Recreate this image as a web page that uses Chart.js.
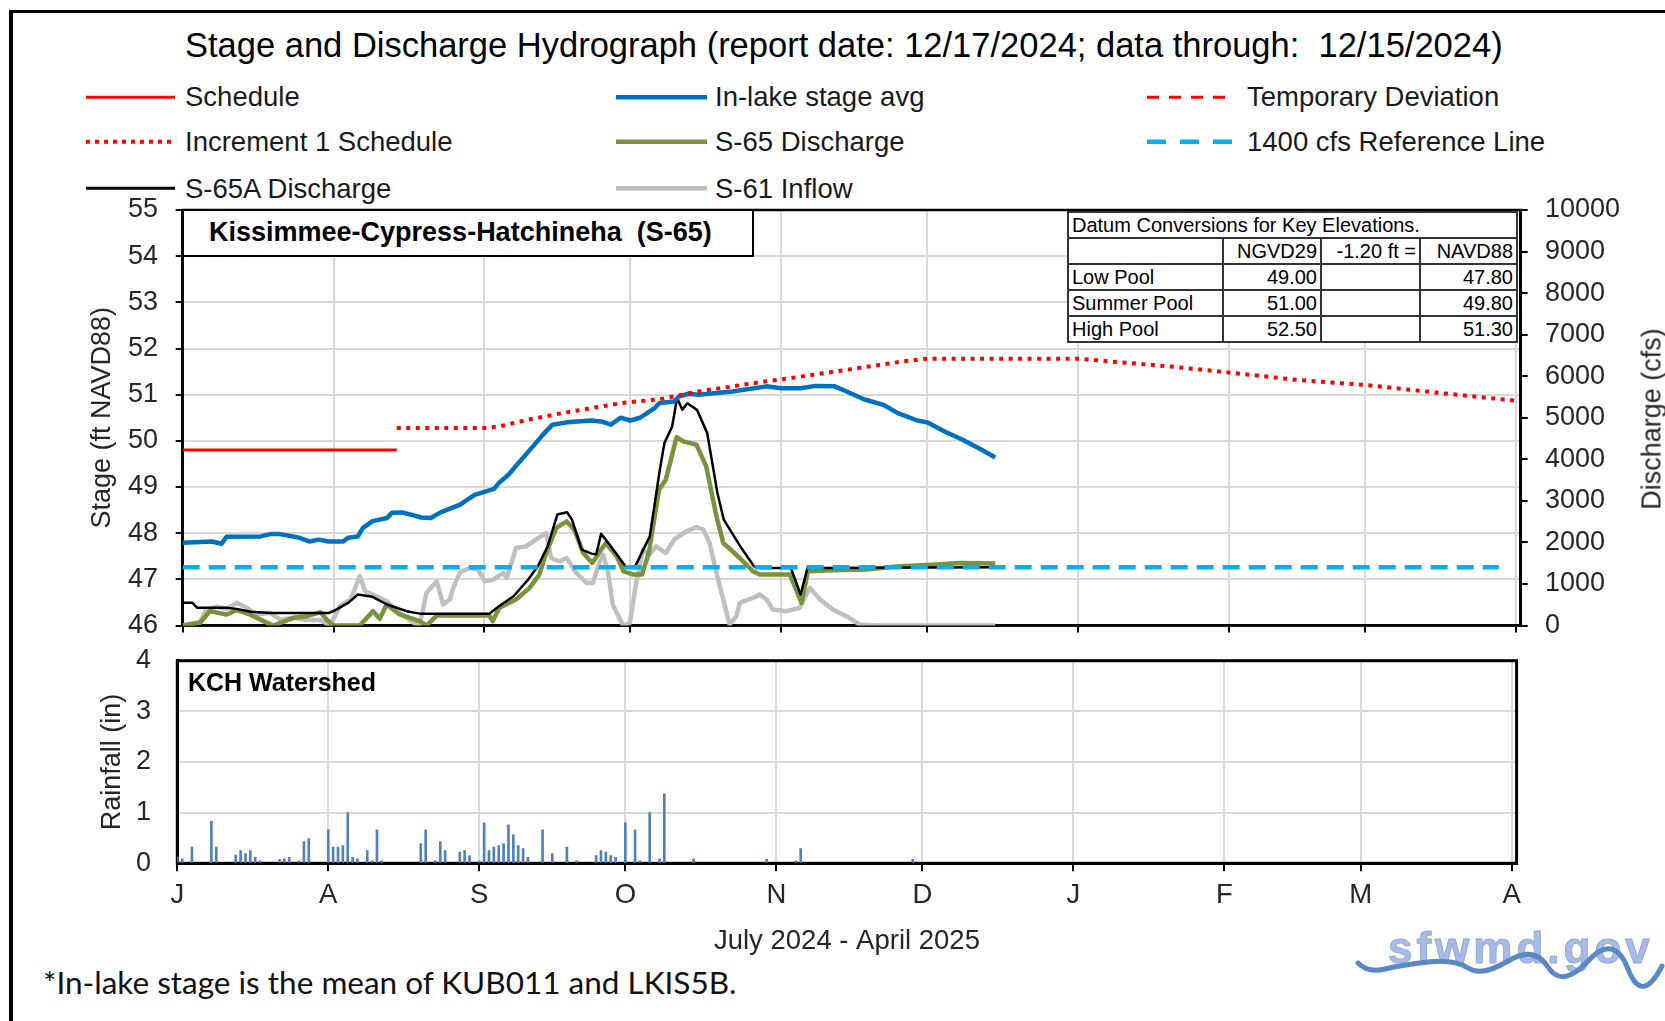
<!DOCTYPE html>
<html lang="en">
<head>
<meta charset="UTF-8">
<title>Stage and Discharge Hydrograph</title>
<script src="https://cdn.jsdelivr.net/npm/chart.js@4.4.1/dist/chart.umd.min.js"></script>
<style>
  body { margin: 0; width: 1665px; height: 1021px; overflow: hidden; background: #fff;
         font-family: 'Liberation Sans', Arial, sans-serif; color: #000; }
  .abs { position: absolute; white-space: pre; }
  .frame { position: absolute; left: 9px; top: 10px; width: 1700px; height: 1100px;
           border-left: 4px solid #000; border-top: 3.5px solid #000; }
  .title { left: 185px; top: 27.8px; font-size: 34.5px; line-height: 34.5px; }
  .leg { font-size: 27.5px; line-height: 27.5px; color: #1a1a1a; }
  canvas { position: absolute; left: 0; }
  .station { position: absolute; left: 182px; top: 209px; width: 572px; height: 48px; box-sizing: border-box;
             border: 2.5px solid #000; background: #fff; font-weight: bold; font-size: 27px;
             line-height: 43px; padding-left: 25px; white-space: pre; }
  .datum { position: absolute; left: 1067px; top: 211px; width: 449px; border-collapse: collapse;
           table-layout: fixed; background: #fff; font-size: 20px; }
  .datum td { border: 2px solid #333; height: 24px; padding: 0 3px; line-height: 24px; white-space: nowrap; overflow: hidden; }
  .datum .r { text-align: right; }
  .ytitle { font-size: 27px; line-height: 27px; color: #262626; transform: translate(-50%, -50%) rotate(-90deg); }
  .watershed { left: 188px; top: 670px; font-weight: bold; font-size: 25px; line-height: 25px; }
  .note { left: 43px; top: 967px; font-family: Lato, 'Open Sans', sans-serif; font-size: 31.5px; line-height: 31.5px; color: #111; }
  .logo { left: 1388px; top: 926px; font-weight: bold; font-size: 44px; line-height: 44px; letter-spacing: 4px;
          color: #a8bce3; -webkit-text-stroke: 1px #90aadb; }
</style>
</head>
<body>

<div class="frame"></div>

<div class="abs title">Stage and Discharge Hydrograph (report date: 12/17/2024; data through:  12/15/2024)</div>

<!-- legend swatches -->
<svg class="abs" style="left:0;top:60px" width="1665" height="150">
  <line x1="86" y1="37.3" x2="175" y2="37.3" stroke="#FF0000" stroke-width="3"/>
  <line x1="86" y1="81.7" x2="175" y2="81.7" stroke="#FF0000" stroke-width="4" stroke-dasharray="4 5"/>
  <line x1="86" y1="128.3" x2="175" y2="128.3" stroke="#000" stroke-width="3"/>
  <line x1="616" y1="37.3" x2="707" y2="37.3" stroke="#0070C0" stroke-width="4.5"/>
  <line x1="616" y1="81.7" x2="707" y2="81.7" stroke="#77933C" stroke-width="4.5"/>
  <line x1="616" y1="128.3" x2="707" y2="128.3" stroke="#BFBFBF" stroke-width="4.5"/>
  <line x1="1147" y1="37.3" x2="1234" y2="37.3" stroke="#FF0000" stroke-width="3" stroke-dasharray="12 10"/>
  <line x1="1147" y1="81.7" x2="1234" y2="81.7" stroke="#00B0F0" stroke-width="4.5" stroke-dasharray="19 14"/>
</svg>
<div class="abs leg" style="left:185px;top:82.5px">Schedule</div>
<div class="abs leg" style="left:185px;top:128px">Increment 1 Schedule</div>
<div class="abs leg" style="left:185px;top:175px">S-65A Discharge</div>
<div class="abs leg" style="left:715px;top:82.5px">In-lake stage avg</div>
<div class="abs leg" style="left:715px;top:128px">S-65 Discharge</div>
<div class="abs leg" style="left:715px;top:175px">S-61 Inflow</div>
<div class="abs leg" style="left:1247px;top:82.5px">Temporary Deviation</div>
<div class="abs leg" style="left:1247px;top:128px">1400 cfs Reference Line</div>

<canvas id="stageChart" width="1665" height="450" style="top:190px"></canvas>
<canvas id="rainChart" width="1665" height="320" style="top:640px"></canvas>

<div class="abs ytitle" style="left:1651.7px;top:419px">Discharge (cfs)</div>

<div class="station">Kissimmee-Cypress-Hatchineha  (S-65)</div>

<table class="datum">
  <colgroup><col style="width:155px"><col style="width:98px"><col style="width:99px"><col style="width:97px"></colgroup>
  <tr><td colspan="4">Datum Conversions for Key Elevations.</td></tr>
  <tr><td></td><td class="r">NGVD29</td><td class="r">-1.20 ft =</td><td class="r">NAVD88</td></tr>
  <tr><td>Low Pool</td><td class="r">49.00</td><td></td><td class="r">47.80</td></tr>
  <tr><td>Summer Pool</td><td class="r">51.00</td><td></td><td class="r">49.80</td></tr>
  <tr><td>High Pool</td><td class="r">52.50</td><td></td><td class="r">51.30</td></tr>
</table>

<div class="abs watershed">KCH Watershed</div>
<div class="abs note">*In-lake stage is the mean of KUB011 and LKIS5B.</div>

<div class="abs logo">sfwmd.gov</div>
<svg class="abs" style="left:0;top:0" width="1665" height="1021">
  <path d="M1358,963 Q1368,973 1385,969 T1428,962 T1468,968 T1508,961 T1548,967 T1588,961 T1628,969 T1662,966"
        fill="none" stroke="#5a87c5" stroke-width="5" stroke-linecap="round"/>
</svg>

<script>
// x values are days after 1 July 2024
const monthDays = [0, 31, 62, 92, 123, 153, 184, 215, 243, 274];
const monthLabels = ['J', 'A', 'S', 'O', 'N', 'D', 'J', 'F', 'M', 'A'];

// stage, ft NAVD88
const stageDays = [0, 6, 8, 9, 16, 18, 20, 24, 26, 28, 30, 33, 34, 36, 37, 39, 42, 43, 45, 47, 49, 51, 53, 57, 60, 64, 65, 67, 69, 72, 74, 76, 79, 84, 86, 88, 90, 92, 94, 97, 98, 101, 102, 104, 106, 113, 120, 123, 127, 130, 134, 136, 140, 144, 147, 151, 153, 157, 160, 164, 167];
const stageFt = [47.79, 47.82, 47.77, 47.92, 47.93, 47.98, 47.98, 47.90, 47.82, 47.86, 47.82, 47.82, 47.90, 47.93, 48.11, 48.26, 48.33, 48.44, 48.45, 48.40, 48.34, 48.33, 48.45, 48.62, 48.83, 48.96, 49.09, 49.27, 49.52, 49.88, 50.13, 50.35, 50.40, 50.44, 50.42, 50.35, 50.50, 50.44, 50.50, 50.71, 50.82, 50.85, 50.96, 51.02, 51.00, 51.07, 51.18, 51.14, 51.14, 51.19, 51.18, 51.09, 50.90, 50.78, 50.60, 50.44, 50.40, 50.18, 50.04, 49.82, 49.64];

const schedDays = [0, 44];
const schedFt = [49.8, 49.8];

const incDays = [44, 62, 65, 71, 78, 84, 91, 98, 106, 113, 120, 127, 134, 141, 148, 153, 184, 203, 215, 229, 243, 259, 274];
const incFt = [50.28, 50.28, 50.31, 50.46, 50.60, 50.71, 50.83, 50.90, 51.07, 51.18, 51.29, 51.39, 51.50, 51.61, 51.72, 51.78, 51.78, 51.61, 51.48, 51.32, 51.21, 51.03, 50.87];

// discharge, cfs
const s65aDays = [0, 2, 3, 9, 11, 14, 18, 30, 31, 34, 36, 39, 42, 46, 49, 63, 65, 68, 71, 73, 75, 77, 79, 80, 82, 84, 85, 86, 88, 91, 93, 96, 98, 99, 100.6, 101.6, 102.7, 103.7, 105.7, 107.8, 109.9, 111.2, 114.6, 117.4, 118.8, 125, 127, 128.5, 130, 167];
const s65aCfs = [545, 545, 425, 425, 400, 330, 300, 300, 345, 545, 745, 690, 505, 345, 280, 280, 465, 705, 1105, 1425, 1905, 2670, 2725, 2550, 1825, 1730, 1715, 2205, 1905, 1425, 1425, 2145, 3700, 4390, 4790, 5475, 5190, 5350, 5190, 4630, 3190, 2550, 1905, 1425, 1385, 1385, 745, 1425, 1385, 1400];

const s65Days = [0, 3.6, 5.6, 9, 11.1, 13.8, 16.6, 18.6, 22.8, 25.5, 28.3, 29.7, 31, 36.4, 39.1, 40.5, 41.9, 44.6, 48.7, 50.1, 52.2, 63, 63.7, 65.1, 68.5, 71.3, 73.3, 74.7, 76.8, 78.9, 80.5, 82.3, 84.2, 86, 87, 89.2, 90.6, 92.6, 94.4, 95.8, 97.9, 99.3, 101.5, 102.9, 105.6, 107.6, 109.7, 111.1, 114.5, 117.2, 118.6, 124.8, 127.2, 128.5, 133.6, 140.5, 147.3, 154.2, 159.6, 167];
const s65Cfs = [0, 65, 345, 265, 370, 265, 105, 0, 185, 225, 320, 130, 0, 0, 345, 160, 505, 265, 105, 0, 240, 240, 105, 425, 625, 905, 1225, 1745, 2350, 2505, 2305, 1745, 1505, 1825, 1985, 1665, 1305, 1225, 1225, 1745, 3270, 3510, 4530, 4430, 4350, 3830, 2630, 1985, 1625, 1305, 1225, 1225, 545, 1305, 1330, 1345, 1425, 1465, 1505, 1490];

const s61Days = [0, 2.2, 3.6, 4.9, 7, 9, 11.1, 13.2, 15.2, 18, 20, 22.8, 25.5, 28.3, 30.3, 32.3, 34.5, 36.4, 37.5, 39.1, 41.9, 44.6, 47.4, 48.7, 50.1, 52.2, 53.5, 54.9, 55.6, 57, 59, 60.7, 62.1, 63.8, 65.9, 66.6, 68.5, 70.6, 72.6, 74.7, 75.7, 77.5, 78.9, 80.9, 83, 84.3, 85.6, 86.4, 87.4, 88.4, 90.5, 91.9, 93.2, 94.6, 95.9, 97.3, 99.3, 101, 103.5, 105.6, 107, 108.3, 109.7, 111.1, 112.4, 113.8, 114.5, 117.2, 118.6, 120, 121.3, 124.1, 126.8, 128.9, 131, 133.6, 136.4, 139.1, 142.6, 167];
const s61Cfs = [0, 50, 105, 385, 450, 400, 545, 425, 265, 305, 145, 185, 130, 130, 0, 465, 625, 1185, 825, 745, 585, 305, 65, 0, 785, 1065, 505, 625, 905, 1280, 1385, 1345, 1065, 1105, 1265, 1145, 1865, 1905, 2065, 2230, 1625, 1545, 1625, 1265, 1025, 1025, 1500, 1700, 1300, 500, 0, 65, 1025, 1825, 1705, 1905, 1745, 2065, 2265, 2370, 2310, 1985, 1265, 625, 25, 225, 545, 665, 745, 625, 385, 345, 425, 905, 625, 385, 225, 25, 0, 0];

const refDays = [0, 270.5];
const refCfs = [1400, 1400];

// daily rainfall, inches
const rainDays = [0, 1, 3, 7, 8, 12, 13, 14, 15, 16, 17, 21, 22, 23, 25, 26, 27, 31, 32, 33, 34, 35, 36, 37, 39, 40, 41, 42, 50, 51, 53, 54, 55, 58, 59, 60, 62, 63, 64, 65, 66, 67, 68, 69, 70, 71, 72, 75, 77, 80, 82, 86, 87, 88, 89, 90, 92, 94, 95, 97, 99, 100, 106, 121, 127, 128, 151];
const rainIn = [0.13, 0.09, 0.32, 0.83, 0.32, 0.16, 0.25, 0.19, 0.25, 0.12, 0.05, 0.08, 0.09, 0.12, 0.05, 0.43, 0.49, 0.66, 0.32, 0.32, 0.35, 1.0, 0.12, 0.09, 0.25, 0.05, 0.66, 0.05, 0.39, 0.66, 0.05, 0.43, 0.25, 0.22, 0.25, 0.15, 0.05, 0.8, 0.25, 0.32, 0.35, 0.39, 0.76, 0.56, 0.35, 0.29, 0.12, 0.66, 0.19, 0.32, 0.05, 0.15, 0.25, 0.22, 0.15, 0.12, 0.8, 0.66, 0.05, 1.0, 0.09, 1.37, 0.09, 0.08, 0.05, 0.29, 0.08];

function pts(xs, ys) {
  return xs.map((x, i) => ({ x: x, y: ys[i] }));
}

Chart.defaults.font.family = "'Liberation Sans', Arial, sans-serif";
Chart.defaults.font.size = 27;
Chart.defaults.color = '#262626';

var gridGray = '#D9D9D9';

// black box round the plot area
var frame = {
  id: 'frame',
  beforeDatasetsDraw(chart, args, opts) {
    var a = chart.chartArea, ctx = chart.ctx;
    ctx.save();
    ctx.strokeStyle = '#000';
    ctx.lineWidth = opts.width;
    ctx.strokeRect(a.left, a.top, a.right - a.left, a.bottom - a.top);
    ctx.restore();
  }
};

function monthTicks(axis) {
  axis.ticks = monthDays.map(v => ({ value: v }));
}

// fixed axis sizes, and no extra room for the end labels
function fixWidth(w) {
  return function (axis) {
    axis.width = w;
    axis.paddingTop = 0;
    axis.paddingBottom = 0;
  };
}
function fixHeight(h) {
  return function (axis) {
    axis.height = h;
    axis.paddingLeft = 0;
    axis.paddingRight = 0;
  };
}

// stage / discharge chart
var stageChart = new Chart(document.getElementById('stageChart'), {
  type: 'line',
  data: {
    datasets: [
      { label: 'Schedule', data: pts(schedDays, schedFt), yAxisID: 'y', borderColor: '#FF0000', borderWidth: 3, order: 0 },
      { label: 'Increment 1 Schedule', data: pts(incDays, incFt), yAxisID: 'y', borderColor: '#FF0000', borderWidth: 4, borderDash: [4, 5.5], order: 0 },
      { label: 'In-lake stage avg', data: pts(stageDays, stageFt), yAxisID: 'y', borderColor: '#0070C0', borderWidth: 4.5, order: 1 },
      { label: '1400 cfs Reference Line', data: pts(refDays, refCfs), yAxisID: 'y2', borderColor: '#00B0F0', borderWidth: 4.5, borderDash: [17, 9], order: 2 },
      { label: 'S-65A Discharge', data: pts(s65aDays, s65aCfs), yAxisID: 'y2', borderColor: '#000000', borderWidth: 2.5, order: 3 },
      { label: 'S-65 Discharge', data: pts(s65Days, s65Cfs), yAxisID: 'y2', borderColor: '#77933C', borderWidth: 4.5, order: 4 },
      { label: 'S-61 Inflow', data: pts(s61Days, s61Cfs), yAxisID: 'y2', borderColor: '#BFBFBF', borderWidth: 4.5, order: 5 }
    ]
  },
  options: {
    responsive: false,
    animation: false,
    layout: { autoPadding: false, padding: { left: 88.8, right: 0, top: 20, bottom: 0 } },
    elements: {
      point: { radius: 0 },
      line: { tension: 0, fill: false, borderJoinStyle: 'round' }
    },
    plugins: { legend: { display: false }, tooltip: { enabled: false }, frame: { width: 2.5 } },
    scales: {
      x: {
        type: 'linear', min: 0, max: 275,
        afterBuildTicks: monthTicks,
        afterFit: fixHeight(14.5),
        ticks: { display: false },
        grid: { color: gridGray, lineWidth: 2, tickColor: '#000', tickLength: 7 },
        border: { color: '#000', width: 2.5 }
      },
      y: {
        position: 'left', min: 46, max: 55,
        afterFit: fixWidth(93.9),
        ticks: { stepSize: 1, padding: 17.7 },
        grid: { color: gridGray, lineWidth: 2, tickColor: '#000', tickLength: 7 },
        border: { color: '#000', width: 2.5 },
        title: { display: true, text: 'Stage (ft NAVD88)', padding: 0, font: { size: 27, lineHeight: 1.05 } }
      },
      y2: {
        position: 'right', min: 0, max: 10000,
        afterFit: fixWidth(144.3),
        ticks: { stepSize: 1000, padding: 17.3, callback: function (v) { return String(v); } },
        grid: { drawOnChartArea: false, color: '#000', lineWidth: 2, tickLength: 7 },
        border: { color: '#000', width: 2.5 }
      }
    }
  },
  plugins: [frame]
});

// rainfall chart
var rainChart = new Chart(document.getElementById('rainChart'), {
  type: 'bar',
  data: {
    datasets: [
      { label: 'Rainfall', data: pts(rainDays, rainIn), backgroundColor: '#4F81BD', barThickness: 2 }
    ]
  },
  options: {
    responsive: false,
    animation: false,
    layout: { autoPadding: false, padding: { left: 98.6, right: 148.4, top: 20.7, bottom: 0 } },
    plugins: { legend: { display: false }, tooltip: { enabled: false }, frame: { width: 3 } },
    scales: {
      x: {
        type: 'linear', min: 0, max: 275, offset: false,
        afterBuildTicks: monthTicks,
        afterFit: fixHeight(96.7),
        ticks: { autoSkip: false, maxRotation: 0, padding: 7.2, font: { size: 27.5 },
                 callback: function (v, i) { return monthLabels[i]; } },
        grid: { color: gridGray, lineWidth: 2, tickColor: '#000', tickLength: 8, offset: false },
        border: { color: '#000', width: 3 },
        title: { display: true, text: 'July 2024 - April 2025', padding: { top: 0, bottom: 4.6 },
                 font: { size: 27.5, lineHeight: 1.05 } }
      },
      y: {
        min: 0, max: 4,
        afterFit: fixWidth(78.7),
        ticks: { stepSize: 1, padding: 26.3 },
        grid: { color: gridGray, lineWidth: 2, drawTicks: false },
        border: { color: '#000', width: 3 },
        title: { display: true, text: 'Rainfall (in)', padding: 0, font: { size: 27, lineHeight: 1.05 } }
      }
    }
  },
  plugins: [frame]
});
</script>
</body>
</html>
